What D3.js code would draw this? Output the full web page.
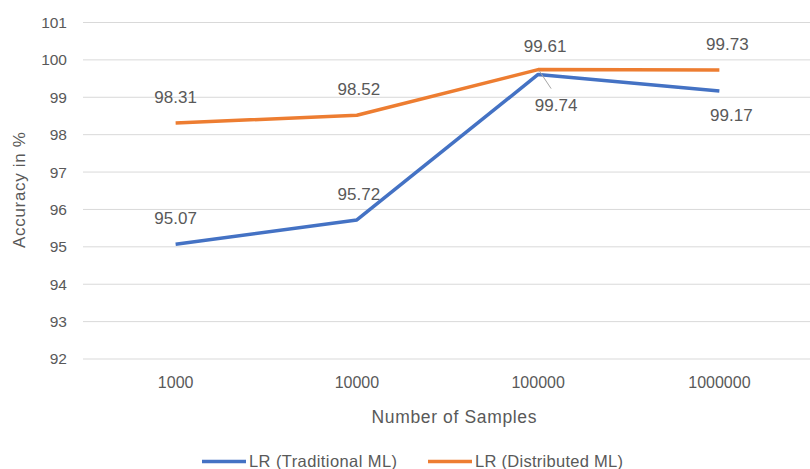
<!DOCTYPE html>
<html>
<head>
<meta charset="utf-8">
<script src="https://cdn.jsdelivr.net/npm/d3@7"></script>
<style>
  html, body { margin: 0; padding: 0; background: #fff; }
  svg { display: block; }
  text { font-family: "Liberation Sans", Arial, sans-serif; fill: #595959; }
</style>
</head>
<body>
<svg id="chart" width="810" height="469"></svg>
<script>
// Accuracy of logistic regression by sample count
const categories = ["1000", "10000", "100000", "1000000"];
const traditional = [95.07, 95.72, 99.61, 99.17];
const distributed = [98.31, 98.52, 99.74, 99.73];
const yTicks = [92, 93, 94, 95, 96, 97, 98, 99, 100, 101];
const seriesNames = ["LR (Traditional ML)", "LR (Distributed ML)"];

const colors = ["#4472C4", "#ED7D31"];
const svg = d3.select("#chart");
const margin = { left: 85, right: 0 };
const W = 810;

const x = d3.scaleBand().domain(categories).range([margin.left, W - margin.right]);
const y = d3.scaleLinear().domain([92, 101]).range([359, 22.5]);

// gridlines
svg.append("g")
  .selectAll("line").data(yTicks).join("line")
  .attr("x1", margin.left - 2).attr("x2", W)
  .attr("y1", d => y(d)).attr("y2", d => y(d))
  .attr("stroke", "#d9d9d9").attr("stroke-width", 1);

const fontFam = "'Liberation Sans', Arial, sans-serif";

// y axis labels
const yAxis = d3.axisLeft(y).tickValues(yTicks).tickSize(0).tickPadding(18);
const gy = svg.append("g").attr("transform", `translate(${margin.left},0)`).call(yAxis);
gy.select(".domain").remove();
gy.selectAll("text").style("font-size", "15.5px").attr("fill", "#595959")
  .style("font-family", fontFam);

// x axis labels
const xAxis = d3.axisBottom(x).tickSize(0);
const gx = svg.append("g").attr("transform", `translate(0,${y(92)})`).call(xAxis);
gx.select(".domain").remove();
gx.selectAll("text").attr("y", 29).attr("dy", null)
  .style("font-size", "16px").attr("fill", "#595959")
  .style("font-family", fontFam);

// axis titles
svg.append("text").attr("x", 454).attr("y", 423).attr("text-anchor", "middle")
  .style("font-size", "17.5px").attr("textLength", 165).attr("lengthAdjust", "spacing")
  .text("Number of Samples");
svg.append("text").attr("transform", "translate(25,190) rotate(-90)")
  .attr("text-anchor", "middle").style("font-size", "17px")
  .attr("textLength", 116).attr("lengthAdjust", "spacing")
  .text("Accuracy in %");

const cx = c => x(c) + x.bandwidth() / 2;
const line = d3.line().x((d, i) => cx(categories[i])).y(d => y(d));

[traditional, distributed].forEach((vals, s) => {
  svg.append("path").datum(vals).attr("d", line)
    .attr("fill", "none").attr("stroke", colors[s])
    .attr("stroke-width", 3.5).attr("stroke-linejoin", "round");
});

// data labels: [series values, index, dx, dy from point (baseline)]
const labels = [
  [traditional, 0, 0, -20],
  [traditional, 1, 2, -20],
  [traditional, 2, 7, -22],
  [traditional, 3, 12, 30],
  [distributed, 0, 0, -20],
  [distributed, 1, 2, -20],
  [distributed, 2, 18, 41.5],
  [distributed, 3, 8, -20]
];
labels.forEach(([vals, i, dx, dy]) => {
  svg.append("text")
    .attr("x", cx(categories[i]) + dx)
    .attr("y", y(vals[i]) + dy)
    .attr("text-anchor", "middle")
    .style("font-size", "17px")
    .text(vals[i].toFixed(2));
});

// leader line for the crowded label at 100000
svg.append("line")
  .attr("x1", cx(categories[2]) + 1).attr("y1", y(distributed[2]) + 1)
  .attr("x2", cx(categories[2]) + 13).attr("y2", y(distributed[2]) + 19)
  .attr("stroke", "#a6a6a6").attr("stroke-width", 1);

// legend
const legend = svg.append("g");
const legendX = [202, 428];
seriesNames.forEach((name, s) => {
  legend.append("line")
    .attr("x1", legendX[s]).attr("x2", legendX[s] + 44)
    .attr("y1", 461.5).attr("y2", 461.5)
    .attr("stroke", colors[s]).attr("stroke-width", 3.5);
  legend.append("text")
    .attr("x", legendX[s] + 47).attr("y", 467)
    .style("font-size", "16.5px")
    .attr("textLength", 148).attr("lengthAdjust", "spacing")
    .text(name);
});
</script>
</body>
</html>
